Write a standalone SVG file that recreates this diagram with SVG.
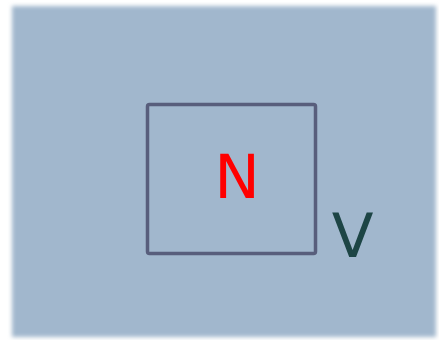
<svg xmlns="http://www.w3.org/2000/svg" width="439" height="340" viewBox="0 0 439 340">
  <defs>
    <filter id="soft" x="-5%" y="-5%" width="110%" height="110%">
      <feGaussianBlur stdDeviation="2"/>
    </filter>
    <style>
      .lbl { font-family: "DejaVu Sans", sans-serif; text-anchor: middle; }
    </style>
  </defs>
  <rect x="0" y="0" width="439" height="340" fill="#ffffff"/>
  <rect id="bg" x="12" y="6" width="424" height="331" fill="#a1b7cd" filter="url(#soft)"/>
  <g id="node-N">
    <rect x="147.5" y="104.5" width="168" height="149" rx="2" fill="none" stroke="#585e7c" stroke-width="3.5"/>
    <text class="lbl" x="237" y="198" font-size="61" fill="#ff0000">N</text>
  </g>
  <g id="label-V">
    <text class="lbl" x="352.5" y="257" font-size="61" fill="#1d4545">V</text>
  </g>
  <g id="connectors"/>
</svg>
